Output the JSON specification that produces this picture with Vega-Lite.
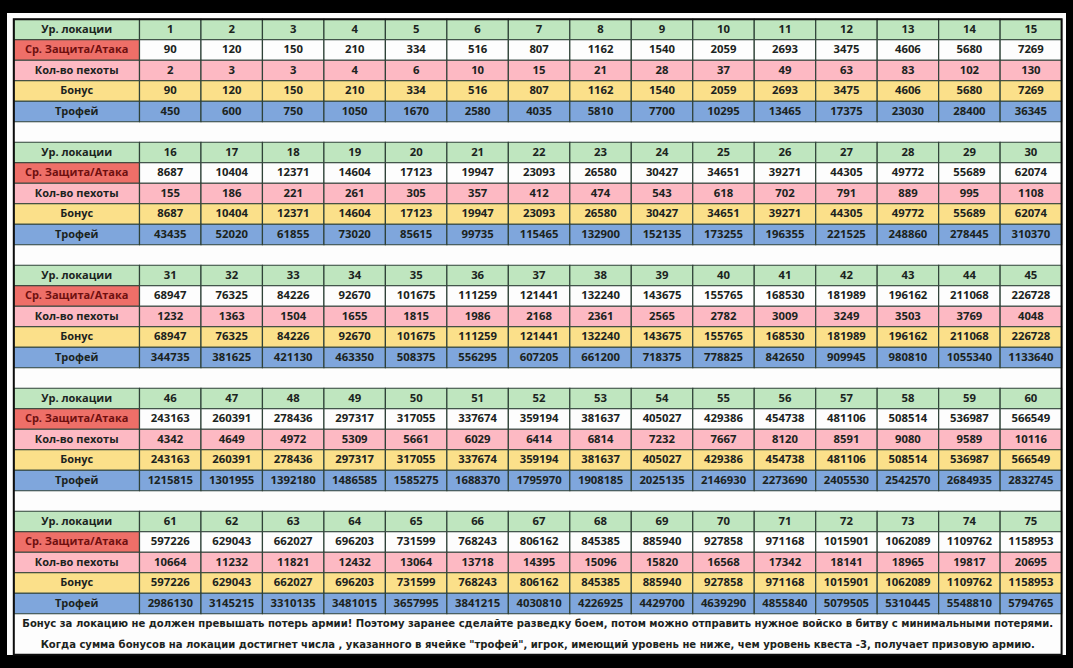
{
"$schema":"https://vega.github.io/schema/vega-lite/v6.json",
"autosize":{"type":"none"},
"width":1059,"height":642,
"padding":{"left":7,"right":7,"top":13,"bottom":13},
"background":"#000000",
"config":{
"view":{"fill":"#fdfdfd","stroke":null},
"axis":{"disable":true},
"legend":{"disable":true},
"rect":{"stroke":"#2f4238","strokeWidth":1.2},
"text":{"font":"Open Sans","fontWeight":"bold","fontSize":11.3,"color":"#1b2320"}
},
"datasets":{
"labels":[
{"r":0,"k":"lvl","t":"Ур. локации","col":"label"},{"r":1,"k":"atk","t":"Ср. Защита/Атака","col":"label"},{"r":2,"k":"inf","t":"Кол-во пехоты","col":"label"},{"r":3,"k":"bon","t":"Бонус","col":"label"},{"r":4,"k":"tro","t":"Трофей","col":"label"},
{"r":6,"k":"lvl","t":"Ур. локации","col":"label"},{"r":7,"k":"atk","t":"Ср. Защита/Атака","col":"label"},{"r":8,"k":"inf","t":"Кол-во пехоты","col":"label"},{"r":9,"k":"bon","t":"Бонус","col":"label"},{"r":10,"k":"tro","t":"Трофей","col":"label"},
{"r":12,"k":"lvl","t":"Ур. локации","col":"label"},{"r":13,"k":"atk","t":"Ср. Защита/Атака","col":"label"},{"r":14,"k":"inf","t":"Кол-во пехоты","col":"label"},{"r":15,"k":"bon","t":"Бонус","col":"label"},{"r":16,"k":"tro","t":"Трофей","col":"label"},
{"r":18,"k":"lvl","t":"Ур. локации","col":"label"},{"r":19,"k":"atk","t":"Ср. Защита/Атака","col":"label"},{"r":20,"k":"inf","t":"Кол-во пехоты","col":"label"},{"r":21,"k":"bon","t":"Бонус","col":"label"},{"r":22,"k":"tro","t":"Трофей","col":"label"},
{"r":24,"k":"lvl","t":"Ур. локации","col":"label"},{"r":25,"k":"atk","t":"Ср. Защита/Атака","col":"label"},{"r":26,"k":"inf","t":"Кол-во пехоты","col":"label"},{"r":27,"k":"bon","t":"Бонус","col":"label"},{"r":28,"k":"tro","t":"Трофей","col":"label"}
],
"notes":[
{"r":29,"span":"all","t":"Бонус за локацию не должен превышать потерь армии! Поэтому заранее сделайте разведку боем, потом можно отправить нужное войско в битву с минимальными потерями."},
{"r":30,"span":"all","t":"Когда сумма бонусов на локации достигнет числа , указанного в ячейке \"трофей\", игрок, имеющий уровень не ниже, чем уровень квеста -3, получает призовую армию."}
],
"cells":[
{"r":0,"c":1,"k":"lvl","v":1},{"r":0,"c":2,"k":"lvl","v":2},{"r":0,"c":3,"k":"lvl","v":3},{"r":0,"c":4,"k":"lvl","v":4},{"r":0,"c":5,"k":"lvl","v":5},{"r":0,"c":6,"k":"lvl","v":6},{"r":0,"c":7,"k":"lvl","v":7},{"r":0,"c":8,"k":"lvl","v":8},{"r":0,"c":9,"k":"lvl","v":9},{"r":0,"c":10,"k":"lvl","v":10},{"r":0,"c":11,"k":"lvl","v":11},{"r":0,"c":12,"k":"lvl","v":12},{"r":0,"c":13,"k":"lvl","v":13},{"r":0,"c":14,"k":"lvl","v":14},{"r":0,"c":15,"k":"lvl","v":15},
{"r":1,"c":1,"k":"atk","v":90},{"r":1,"c":2,"k":"atk","v":120},{"r":1,"c":3,"k":"atk","v":150},{"r":1,"c":4,"k":"atk","v":210},{"r":1,"c":5,"k":"atk","v":334},{"r":1,"c":6,"k":"atk","v":516},{"r":1,"c":7,"k":"atk","v":807},{"r":1,"c":8,"k":"atk","v":1162},{"r":1,"c":9,"k":"atk","v":1540},{"r":1,"c":10,"k":"atk","v":2059},{"r":1,"c":11,"k":"atk","v":2693},{"r":1,"c":12,"k":"atk","v":3475},{"r":1,"c":13,"k":"atk","v":4606},{"r":1,"c":14,"k":"atk","v":5680},{"r":1,"c":15,"k":"atk","v":7269},
{"r":2,"c":1,"k":"inf","v":2},{"r":2,"c":2,"k":"inf","v":3},{"r":2,"c":3,"k":"inf","v":3},{"r":2,"c":4,"k":"inf","v":4},{"r":2,"c":5,"k":"inf","v":6},{"r":2,"c":6,"k":"inf","v":10},{"r":2,"c":7,"k":"inf","v":15},{"r":2,"c":8,"k":"inf","v":21},{"r":2,"c":9,"k":"inf","v":28},{"r":2,"c":10,"k":"inf","v":37},{"r":2,"c":11,"k":"inf","v":49},{"r":2,"c":12,"k":"inf","v":63},{"r":2,"c":13,"k":"inf","v":83},{"r":2,"c":14,"k":"inf","v":102},{"r":2,"c":15,"k":"inf","v":130},
{"r":3,"c":1,"k":"bon","v":90},{"r":3,"c":2,"k":"bon","v":120},{"r":3,"c":3,"k":"bon","v":150},{"r":3,"c":4,"k":"bon","v":210},{"r":3,"c":5,"k":"bon","v":334},{"r":3,"c":6,"k":"bon","v":516},{"r":3,"c":7,"k":"bon","v":807},{"r":3,"c":8,"k":"bon","v":1162},{"r":3,"c":9,"k":"bon","v":1540},{"r":3,"c":10,"k":"bon","v":2059},{"r":3,"c":11,"k":"bon","v":2693},{"r":3,"c":12,"k":"bon","v":3475},{"r":3,"c":13,"k":"bon","v":4606},{"r":3,"c":14,"k":"bon","v":5680},{"r":3,"c":15,"k":"bon","v":7269},
{"r":4,"c":1,"k":"tro","v":450},{"r":4,"c":2,"k":"tro","v":600},{"r":4,"c":3,"k":"tro","v":750},{"r":4,"c":4,"k":"tro","v":1050},{"r":4,"c":5,"k":"tro","v":1670},{"r":4,"c":6,"k":"tro","v":2580},{"r":4,"c":7,"k":"tro","v":4035},{"r":4,"c":8,"k":"tro","v":5810},{"r":4,"c":9,"k":"tro","v":7700},{"r":4,"c":10,"k":"tro","v":10295},{"r":4,"c":11,"k":"tro","v":13465},{"r":4,"c":12,"k":"tro","v":17375},{"r":4,"c":13,"k":"tro","v":23030},{"r":4,"c":14,"k":"tro","v":28400},{"r":4,"c":15,"k":"tro","v":36345},
{"r":6,"c":1,"k":"lvl","v":16},{"r":6,"c":2,"k":"lvl","v":17},{"r":6,"c":3,"k":"lvl","v":18},{"r":6,"c":4,"k":"lvl","v":19},{"r":6,"c":5,"k":"lvl","v":20},{"r":6,"c":6,"k":"lvl","v":21},{"r":6,"c":7,"k":"lvl","v":22},{"r":6,"c":8,"k":"lvl","v":23},{"r":6,"c":9,"k":"lvl","v":24},{"r":6,"c":10,"k":"lvl","v":25},{"r":6,"c":11,"k":"lvl","v":26},{"r":6,"c":12,"k":"lvl","v":27},{"r":6,"c":13,"k":"lvl","v":28},{"r":6,"c":14,"k":"lvl","v":29},{"r":6,"c":15,"k":"lvl","v":30},
{"r":7,"c":1,"k":"atk","v":8687},{"r":7,"c":2,"k":"atk","v":10404},{"r":7,"c":3,"k":"atk","v":12371},{"r":7,"c":4,"k":"atk","v":14604},{"r":7,"c":5,"k":"atk","v":17123},{"r":7,"c":6,"k":"atk","v":19947},{"r":7,"c":7,"k":"atk","v":23093},{"r":7,"c":8,"k":"atk","v":26580},{"r":7,"c":9,"k":"atk","v":30427},{"r":7,"c":10,"k":"atk","v":34651},{"r":7,"c":11,"k":"atk","v":39271},{"r":7,"c":12,"k":"atk","v":44305},{"r":7,"c":13,"k":"atk","v":49772},{"r":7,"c":14,"k":"atk","v":55689},{"r":7,"c":15,"k":"atk","v":62074},
{"r":8,"c":1,"k":"inf","v":155},{"r":8,"c":2,"k":"inf","v":186},{"r":8,"c":3,"k":"inf","v":221},{"r":8,"c":4,"k":"inf","v":261},{"r":8,"c":5,"k":"inf","v":305},{"r":8,"c":6,"k":"inf","v":357},{"r":8,"c":7,"k":"inf","v":412},{"r":8,"c":8,"k":"inf","v":474},{"r":8,"c":9,"k":"inf","v":543},{"r":8,"c":10,"k":"inf","v":618},{"r":8,"c":11,"k":"inf","v":702},{"r":8,"c":12,"k":"inf","v":791},{"r":8,"c":13,"k":"inf","v":889},{"r":8,"c":14,"k":"inf","v":995},{"r":8,"c":15,"k":"inf","v":1108},
{"r":9,"c":1,"k":"bon","v":8687},{"r":9,"c":2,"k":"bon","v":10404},{"r":9,"c":3,"k":"bon","v":12371},{"r":9,"c":4,"k":"bon","v":14604},{"r":9,"c":5,"k":"bon","v":17123},{"r":9,"c":6,"k":"bon","v":19947},{"r":9,"c":7,"k":"bon","v":23093},{"r":9,"c":8,"k":"bon","v":26580},{"r":9,"c":9,"k":"bon","v":30427},{"r":9,"c":10,"k":"bon","v":34651},{"r":9,"c":11,"k":"bon","v":39271},{"r":9,"c":12,"k":"bon","v":44305},{"r":9,"c":13,"k":"bon","v":49772},{"r":9,"c":14,"k":"bon","v":55689},{"r":9,"c":15,"k":"bon","v":62074},
{"r":10,"c":1,"k":"tro","v":43435},{"r":10,"c":2,"k":"tro","v":52020},{"r":10,"c":3,"k":"tro","v":61855},{"r":10,"c":4,"k":"tro","v":73020},{"r":10,"c":5,"k":"tro","v":85615},{"r":10,"c":6,"k":"tro","v":99735},{"r":10,"c":7,"k":"tro","v":115465},{"r":10,"c":8,"k":"tro","v":132900},{"r":10,"c":9,"k":"tro","v":152135},{"r":10,"c":10,"k":"tro","v":173255},{"r":10,"c":11,"k":"tro","v":196355},{"r":10,"c":12,"k":"tro","v":221525},{"r":10,"c":13,"k":"tro","v":248860},{"r":10,"c":14,"k":"tro","v":278445},{"r":10,"c":15,"k":"tro","v":310370},
{"r":12,"c":1,"k":"lvl","v":31},{"r":12,"c":2,"k":"lvl","v":32},{"r":12,"c":3,"k":"lvl","v":33},{"r":12,"c":4,"k":"lvl","v":34},{"r":12,"c":5,"k":"lvl","v":35},{"r":12,"c":6,"k":"lvl","v":36},{"r":12,"c":7,"k":"lvl","v":37},{"r":12,"c":8,"k":"lvl","v":38},{"r":12,"c":9,"k":"lvl","v":39},{"r":12,"c":10,"k":"lvl","v":40},{"r":12,"c":11,"k":"lvl","v":41},{"r":12,"c":12,"k":"lvl","v":42},{"r":12,"c":13,"k":"lvl","v":43},{"r":12,"c":14,"k":"lvl","v":44},{"r":12,"c":15,"k":"lvl","v":45},
{"r":13,"c":1,"k":"atk","v":68947},{"r":13,"c":2,"k":"atk","v":76325},{"r":13,"c":3,"k":"atk","v":84226},{"r":13,"c":4,"k":"atk","v":92670},{"r":13,"c":5,"k":"atk","v":101675},{"r":13,"c":6,"k":"atk","v":111259},{"r":13,"c":7,"k":"atk","v":121441},{"r":13,"c":8,"k":"atk","v":132240},{"r":13,"c":9,"k":"atk","v":143675},{"r":13,"c":10,"k":"atk","v":155765},{"r":13,"c":11,"k":"atk","v":168530},{"r":13,"c":12,"k":"atk","v":181989},{"r":13,"c":13,"k":"atk","v":196162},{"r":13,"c":14,"k":"atk","v":211068},{"r":13,"c":15,"k":"atk","v":226728},
{"r":14,"c":1,"k":"inf","v":1232},{"r":14,"c":2,"k":"inf","v":1363},{"r":14,"c":3,"k":"inf","v":1504},{"r":14,"c":4,"k":"inf","v":1655},{"r":14,"c":5,"k":"inf","v":1815},{"r":14,"c":6,"k":"inf","v":1986},{"r":14,"c":7,"k":"inf","v":2168},{"r":14,"c":8,"k":"inf","v":2361},{"r":14,"c":9,"k":"inf","v":2565},{"r":14,"c":10,"k":"inf","v":2782},{"r":14,"c":11,"k":"inf","v":3009},{"r":14,"c":12,"k":"inf","v":3249},{"r":14,"c":13,"k":"inf","v":3503},{"r":14,"c":14,"k":"inf","v":3769},{"r":14,"c":15,"k":"inf","v":4048},
{"r":15,"c":1,"k":"bon","v":68947},{"r":15,"c":2,"k":"bon","v":76325},{"r":15,"c":3,"k":"bon","v":84226},{"r":15,"c":4,"k":"bon","v":92670},{"r":15,"c":5,"k":"bon","v":101675},{"r":15,"c":6,"k":"bon","v":111259},{"r":15,"c":7,"k":"bon","v":121441},{"r":15,"c":8,"k":"bon","v":132240},{"r":15,"c":9,"k":"bon","v":143675},{"r":15,"c":10,"k":"bon","v":155765},{"r":15,"c":11,"k":"bon","v":168530},{"r":15,"c":12,"k":"bon","v":181989},{"r":15,"c":13,"k":"bon","v":196162},{"r":15,"c":14,"k":"bon","v":211068},{"r":15,"c":15,"k":"bon","v":226728},
{"r":16,"c":1,"k":"tro","v":344735},{"r":16,"c":2,"k":"tro","v":381625},{"r":16,"c":3,"k":"tro","v":421130},{"r":16,"c":4,"k":"tro","v":463350},{"r":16,"c":5,"k":"tro","v":508375},{"r":16,"c":6,"k":"tro","v":556295},{"r":16,"c":7,"k":"tro","v":607205},{"r":16,"c":8,"k":"tro","v":661200},{"r":16,"c":9,"k":"tro","v":718375},{"r":16,"c":10,"k":"tro","v":778825},{"r":16,"c":11,"k":"tro","v":842650},{"r":16,"c":12,"k":"tro","v":909945},{"r":16,"c":13,"k":"tro","v":980810},{"r":16,"c":14,"k":"tro","v":1055340},{"r":16,"c":15,"k":"tro","v":1133640},
{"r":18,"c":1,"k":"lvl","v":46},{"r":18,"c":2,"k":"lvl","v":47},{"r":18,"c":3,"k":"lvl","v":48},{"r":18,"c":4,"k":"lvl","v":49},{"r":18,"c":5,"k":"lvl","v":50},{"r":18,"c":6,"k":"lvl","v":51},{"r":18,"c":7,"k":"lvl","v":52},{"r":18,"c":8,"k":"lvl","v":53},{"r":18,"c":9,"k":"lvl","v":54},{"r":18,"c":10,"k":"lvl","v":55},{"r":18,"c":11,"k":"lvl","v":56},{"r":18,"c":12,"k":"lvl","v":57},{"r":18,"c":13,"k":"lvl","v":58},{"r":18,"c":14,"k":"lvl","v":59},{"r":18,"c":15,"k":"lvl","v":60},
{"r":19,"c":1,"k":"atk","v":243163},{"r":19,"c":2,"k":"atk","v":260391},{"r":19,"c":3,"k":"atk","v":278436},{"r":19,"c":4,"k":"atk","v":297317},{"r":19,"c":5,"k":"atk","v":317055},{"r":19,"c":6,"k":"atk","v":337674},{"r":19,"c":7,"k":"atk","v":359194},{"r":19,"c":8,"k":"atk","v":381637},{"r":19,"c":9,"k":"atk","v":405027},{"r":19,"c":10,"k":"atk","v":429386},{"r":19,"c":11,"k":"atk","v":454738},{"r":19,"c":12,"k":"atk","v":481106},{"r":19,"c":13,"k":"atk","v":508514},{"r":19,"c":14,"k":"atk","v":536987},{"r":19,"c":15,"k":"atk","v":566549},
{"r":20,"c":1,"k":"inf","v":4342},{"r":20,"c":2,"k":"inf","v":4649},{"r":20,"c":3,"k":"inf","v":4972},{"r":20,"c":4,"k":"inf","v":5309},{"r":20,"c":5,"k":"inf","v":5661},{"r":20,"c":6,"k":"inf","v":6029},{"r":20,"c":7,"k":"inf","v":6414},{"r":20,"c":8,"k":"inf","v":6814},{"r":20,"c":9,"k":"inf","v":7232},{"r":20,"c":10,"k":"inf","v":7667},{"r":20,"c":11,"k":"inf","v":8120},{"r":20,"c":12,"k":"inf","v":8591},{"r":20,"c":13,"k":"inf","v":9080},{"r":20,"c":14,"k":"inf","v":9589},{"r":20,"c":15,"k":"inf","v":10116},
{"r":21,"c":1,"k":"bon","v":243163},{"r":21,"c":2,"k":"bon","v":260391},{"r":21,"c":3,"k":"bon","v":278436},{"r":21,"c":4,"k":"bon","v":297317},{"r":21,"c":5,"k":"bon","v":317055},{"r":21,"c":6,"k":"bon","v":337674},{"r":21,"c":7,"k":"bon","v":359194},{"r":21,"c":8,"k":"bon","v":381637},{"r":21,"c":9,"k":"bon","v":405027},{"r":21,"c":10,"k":"bon","v":429386},{"r":21,"c":11,"k":"bon","v":454738},{"r":21,"c":12,"k":"bon","v":481106},{"r":21,"c":13,"k":"bon","v":508514},{"r":21,"c":14,"k":"bon","v":536987},{"r":21,"c":15,"k":"bon","v":566549},
{"r":22,"c":1,"k":"tro","v":1215815},{"r":22,"c":2,"k":"tro","v":1301955},{"r":22,"c":3,"k":"tro","v":1392180},{"r":22,"c":4,"k":"tro","v":1486585},{"r":22,"c":5,"k":"tro","v":1585275},{"r":22,"c":6,"k":"tro","v":1688370},{"r":22,"c":7,"k":"tro","v":1795970},{"r":22,"c":8,"k":"tro","v":1908185},{"r":22,"c":9,"k":"tro","v":2025135},{"r":22,"c":10,"k":"tro","v":2146930},{"r":22,"c":11,"k":"tro","v":2273690},{"r":22,"c":12,"k":"tro","v":2405530},{"r":22,"c":13,"k":"tro","v":2542570},{"r":22,"c":14,"k":"tro","v":2684935},{"r":22,"c":15,"k":"tro","v":2832745},
{"r":24,"c":1,"k":"lvl","v":61},{"r":24,"c":2,"k":"lvl","v":62},{"r":24,"c":3,"k":"lvl","v":63},{"r":24,"c":4,"k":"lvl","v":64},{"r":24,"c":5,"k":"lvl","v":65},{"r":24,"c":6,"k":"lvl","v":66},{"r":24,"c":7,"k":"lvl","v":67},{"r":24,"c":8,"k":"lvl","v":68},{"r":24,"c":9,"k":"lvl","v":69},{"r":24,"c":10,"k":"lvl","v":70},{"r":24,"c":11,"k":"lvl","v":71},{"r":24,"c":12,"k":"lvl","v":72},{"r":24,"c":13,"k":"lvl","v":73},{"r":24,"c":14,"k":"lvl","v":74},{"r":24,"c":15,"k":"lvl","v":75},
{"r":25,"c":1,"k":"atk","v":597226},{"r":25,"c":2,"k":"atk","v":629043},{"r":25,"c":3,"k":"atk","v":662027},{"r":25,"c":4,"k":"atk","v":696203},{"r":25,"c":5,"k":"atk","v":731599},{"r":25,"c":6,"k":"atk","v":768243},{"r":25,"c":7,"k":"atk","v":806162},{"r":25,"c":8,"k":"atk","v":845385},{"r":25,"c":9,"k":"atk","v":885940},{"r":25,"c":10,"k":"atk","v":927858},{"r":25,"c":11,"k":"atk","v":971168},{"r":25,"c":12,"k":"atk","v":1015901},{"r":25,"c":13,"k":"atk","v":1062089},{"r":25,"c":14,"k":"atk","v":1109762},{"r":25,"c":15,"k":"atk","v":1158953},
{"r":26,"c":1,"k":"inf","v":10664},{"r":26,"c":2,"k":"inf","v":11232},{"r":26,"c":3,"k":"inf","v":11821},{"r":26,"c":4,"k":"inf","v":12432},{"r":26,"c":5,"k":"inf","v":13064},{"r":26,"c":6,"k":"inf","v":13718},{"r":26,"c":7,"k":"inf","v":14395},{"r":26,"c":8,"k":"inf","v":15096},{"r":26,"c":9,"k":"inf","v":15820},{"r":26,"c":10,"k":"inf","v":16568},{"r":26,"c":11,"k":"inf","v":17342},{"r":26,"c":12,"k":"inf","v":18141},{"r":26,"c":13,"k":"inf","v":18965},{"r":26,"c":14,"k":"inf","v":19817},{"r":26,"c":15,"k":"inf","v":20695},
{"r":27,"c":1,"k":"bon","v":597226},{"r":27,"c":2,"k":"bon","v":629043},{"r":27,"c":3,"k":"bon","v":662027},{"r":27,"c":4,"k":"bon","v":696203},{"r":27,"c":5,"k":"bon","v":731599},{"r":27,"c":6,"k":"bon","v":768243},{"r":27,"c":7,"k":"bon","v":806162},{"r":27,"c":8,"k":"bon","v":845385},{"r":27,"c":9,"k":"bon","v":885940},{"r":27,"c":10,"k":"bon","v":927858},{"r":27,"c":11,"k":"bon","v":971168},{"r":27,"c":12,"k":"bon","v":1015901},{"r":27,"c":13,"k":"bon","v":1062089},{"r":27,"c":14,"k":"bon","v":1109762},{"r":27,"c":15,"k":"bon","v":1158953},
{"r":28,"c":1,"k":"tro","v":2986130},{"r":28,"c":2,"k":"tro","v":3145215},{"r":28,"c":3,"k":"tro","v":3310135},{"r":28,"c":4,"k":"tro","v":3481015},{"r":28,"c":5,"k":"tro","v":3657995},{"r":28,"c":6,"k":"tro","v":3841215},{"r":28,"c":7,"k":"tro","v":4030810},{"r":28,"c":8,"k":"tro","v":4226925},{"r":28,"c":9,"k":"tro","v":4429700},{"r":28,"c":10,"k":"tro","v":4639290},{"r":28,"c":11,"k":"tro","v":4855840},{"r":28,"c":12,"k":"tro","v":5079505},{"r":28,"c":13,"k":"tro","v":5310445},{"r":28,"c":14,"k":"tro","v":5548810},{"r":28,"c":15,"k":"tro","v":5794765}
]
},
"resolve":{"scale":{"x":"independent","y":"independent","color":"independent"}},
"layer":[
{
"data":{"name":"labels"},
"encoding":{
"x":{"field":"col","type":"nominal","scale":{"domain":["label"],"range":[6.8,132.5],"paddingInner":0,"paddingOuter":0}},
"y":{"field":"r","type":"ordinal","scale":{"domain":[0,1,2,3,4,5,6,7,8,9,10,11,12,13,14,15,16,17,18,19,20,21,22,23,24,25,26,27,28],"range":[6.25,600.75],"paddingInner":0,"paddingOuter":0}}
},
"layer":[
{"mark":"rect","encoding":{"color":{"field":"k","type":"nominal","scale":{"domain":["lvl","atk","inf","bon","tro"],"range":["#bfe6bf","#ee6f68","#fdb9c3","#fbe08a","#7fa6dc"]}}}},
{"mark":{"type":"text","fontSize":11},"encoding":{"text":{"field":"t","type":"nominal"},"color":{"condition":{"test":"datum.k === 'atk'","value":"#6e0f0f"},"value":"#1b2320"}}}
]
},
{
"data":{"name":"cells"},
"encoding":{
"x":{"field":"c","type":"ordinal","scale":{"domain":[1,2,3,4,5,6,7,8,9,10,11,12,13,14,15],"range":[132.5,1054.6],"paddingInner":0,"paddingOuter":0}},
"y":{"field":"r","type":"ordinal","scale":{"domain":[0,1,2,3,4,5,6,7,8,9,10,11,12,13,14,15,16,17,18,19,20,21,22,23,24,25,26,27,28],"range":[6.25,600.75],"paddingInner":0,"paddingOuter":0}}
},
"layer":[
{"mark":"rect","encoding":{"color":{"field":"k","type":"nominal","scale":{"domain":["lvl","atk","inf","bon","tro"],"range":["#bfe6bf","#fdfdfd","#fdb9c3","#fbe08a","#7fa6dc"]}}}},
{"mark":"text","encoding":{"text":{"field":"v","type":"nominal"}}}
]
},
{
"data":{"name":"notes"},
"mark":{"type":"text","font":"DejaVu Sans","fontSize":10.05},
"encoding":{
"x":{"field":"span","type":"nominal","scale":{"domain":["all"],"range":[6.8,1054.6],"paddingInner":0,"paddingOuter":0}},
"y":{"field":"r","type":"ordinal","scale":{"domain":[29,30],"range":[600.75,641.75],"paddingInner":0,"paddingOuter":0}},
"text":{"field":"t","type":"nominal"}
}
},
{
"data":{"values":[{"part":"frame"}]},
"mark":{"type":"rect","fillOpacity":0,"stroke":"#0d0d0d","strokeWidth":2},
"encoding":{
"x":{"field":"part","type":"nominal","scale":{"domain":["frame"],"range":[6.8,1054.6],"paddingInner":0,"paddingOuter":0}},
"y":{"field":"part","type":"nominal","scale":{"domain":["frame"],"range":[6.25,641.75],"paddingInner":0,"paddingOuter":0}}
}
}
]
}
